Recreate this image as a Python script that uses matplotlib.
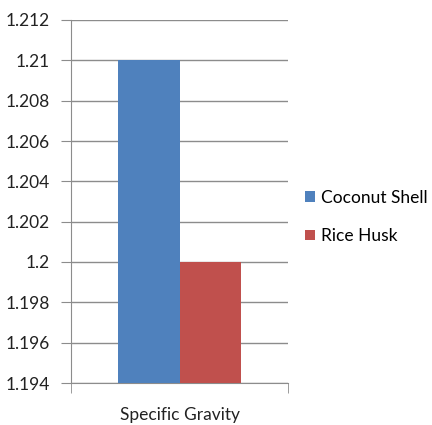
import numpy as np
from matplotlib import pyplot as plt

plt.rcParams['font.family'] = ['Lato', 'DejaVu Sans']

# 比重数据
category = 'Specific Gravity'
materials = ['Coconut Shell', 'Rice Husk']
values = [1.21, 1.2]
colors = ['#4F81BD', '#C0504D']
yticks = np.arange(1.194, 1.2121, 0.002)

fig = plt.figure(figsize=(4.32, 4.25), dpi=100)
ax = fig.add_axes([71 / 432, 42 / 425, 217 / 432, 363 / 425])

grid_c = '#8C8C8C'
width = 0.285
centers = [0.5 - width / 2, 0.5 + width / 2]
for x, v, c, lab in zip(centers, values, colors, materials):
    ax.bar(x, v - 1.194, bottom=1.194, width=width, color=c, label=lab, zorder=3)

ax.set_xlim(0, 1)
ax.set_ylim(1.194, 1.212)
ax.set_yticks(yticks)
ax.set_yticklabels(['%g' % round(t, 3) for t in yticks])
ax.yaxis.grid(True, color=grid_c, linewidth=1, zorder=0)

ax.set_xticks([0.5])
ax.set_xticklabels([category])
ax.set_xticks([0, 1], minor=True)
ax.tick_params(axis='x', which='major', length=0, pad=17)
ax.tick_params(axis='x', which='minor', length=7, color=grid_c, direction='out')
ax.tick_params(axis='y', length=7, color=grid_c, direction='out', pad=8)
ax.tick_params(labelsize=12.5, labelcolor='#222222')

for s in ['top', 'right']:
    ax.spines[s].set_visible(False)
for s in ['left', 'bottom']:
    ax.spines[s].set_color(grid_c)

fig.legend(loc='center left', bbox_to_anchor=(305 / 432, 208 / 425), frameon=False,
           fontsize=12.5, handlelength=0.55, handleheight=0.55, handletextpad=0.4,
           labelspacing=1.3, borderpad=0, borderaxespad=0)

plt.savefig('out.png', dpi=100)
